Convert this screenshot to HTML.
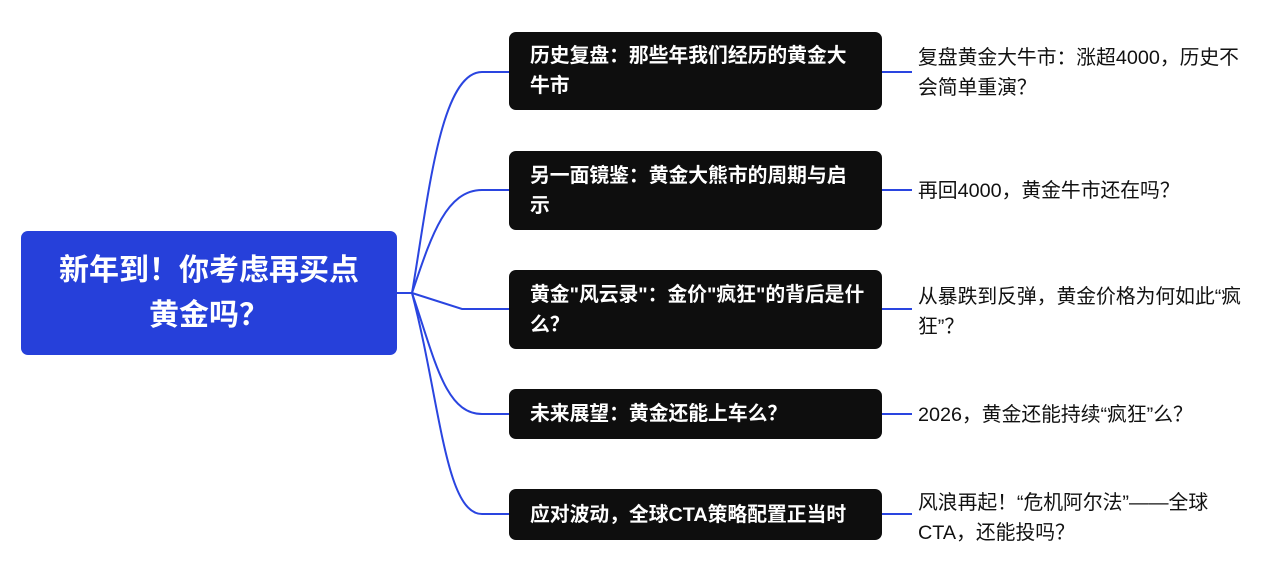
<!DOCTYPE html>
<html><head><meta charset="utf-8"><style>
body{margin:0;width:1267px;height:576px;background:#fff;position:relative;overflow:hidden;font-family:"Liberation Sans","Noto Sans CJK SC",sans-serif}
.root{position:absolute;left:21px;top:231px;width:376px;height:124px;background:#2640da;border-radius:7px;color:#fff;font-weight:bold;font-size:30px;line-height:45px;text-align:center;display:flex;align-items:center;justify-content:center;box-sizing:border-box;padding:0 20px}
.b{position:absolute;left:509px;width:373px;background:#0e0e0e;border-radius:7px;color:#fff;font-weight:bold;font-size:19.8px;line-height:30px;box-sizing:border-box;padding:0 10px 0 21px;display:flex;align-items:center;white-space:nowrap}
.t{position:absolute;left:918px;font-size:19.8px;line-height:30px;color:#111;white-space:nowrap}
svg{position:absolute;left:0;top:0}
</style></head><body>
<svg width="1267" height="576"><g fill="none" stroke="#2a45e0" stroke-width="2">
<path d="M397 293 H412"/>
<path d="M412 293 C428 200 440 72 482 72 H510"/>
<path d="M412 293 C430 240 445 190 482 190 H510"/>
<path d="M412 293 L462 309 H510"/>
<path d="M412 293 C435 360 445 414 482 414 H510"/>
<path d="M412 293 C440 400 445 514 482 514 H510"/>
<path d="M882 72 H912 M882 190 H912 M882 309 H912 M882 414 H912 M882 514 H912"/>
</g></svg>
<div class="root"><div>新年到！你考虑再买点<br>黄金吗？</div></div>
<div class="b" style="top:32px;height:78px"><div>历史复盘：那些年我们经历的黄金大<br>牛市</div></div>
<div class="b" style="top:151px;height:79px"><div>另一面镜鉴：黄金大熊市的周期与启<br>示</div></div>
<div class="b" style="top:270px;height:79px"><div>黄金"风云录"：金价"疯狂"的背后是什<br>么？</div></div>
<div class="b" style="top:389px;height:50px">未来展望：黄金还能上车么？</div>
<div class="b" style="top:489px;height:51px">应对波动，全球CTA策略配置正当时</div>
<div class="t" style="top:43px">复盘黄金大牛市：涨超4000，历史不<br>会简单重演？</div>
<div class="t" style="top:176px">再回4000，黄金牛市还在吗？</div>
<div class="t" style="top:282px">从暴跌到反弹，黄金价格为何如此“疯<br>狂”？</div>
<div class="t" style="top:400px">2026，黄金还能持续“疯狂”么？</div>
<div class="t" style="top:488px">风浪再起！“危机阿尔法”——全球<br>CTA，还能投吗？</div>
</body></html>
